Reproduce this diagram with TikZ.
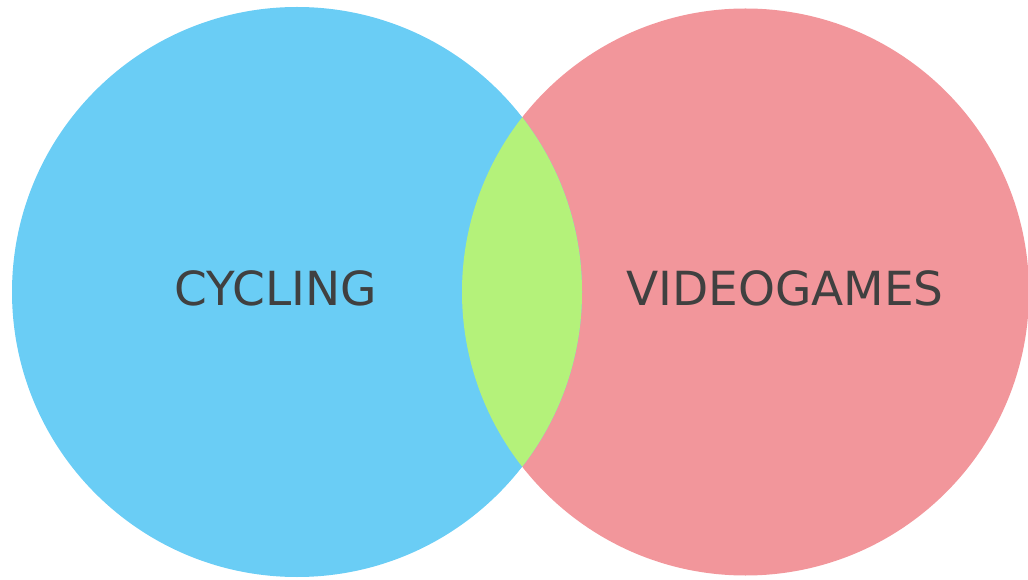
\documentclass[tikz,border=0pt]{standalone}
\usepackage{fontspec}
\setmainfont{DejaVu Sans}
\definecolor{cyclingblue}{RGB}{106,205,245}
\definecolor{gamespink}{RGB}{242,150,155}
\definecolor{lensgreen}{RGB}{180,242,122}
\definecolor{labelgray}{RGB}{64,64,64}

\begin{document}
\begin{tikzpicture}[x=1pt,y=1pt,
  setlabel/.style={text=labelgray,font=\fontsize{47}{50}\selectfont}]
 \useasboundingbox (0,0) rectangle (1028,579);
 \fill[gamespink] (745.5,287) circle (283.5);
 \fill[cyclingblue] (297,287) circle (285);
 \begin{scope}
  \clip (297,287) circle (285);
  \fill[lensgreen] (745.5,287) circle (283.5);
 \end{scope}
 \node[setlabel] (cycling) at (276,291) {CYCLING};
 \node[setlabel] (videogames) at (785,291) {VIDEOGAMES};
\end{tikzpicture}
\end{document}
